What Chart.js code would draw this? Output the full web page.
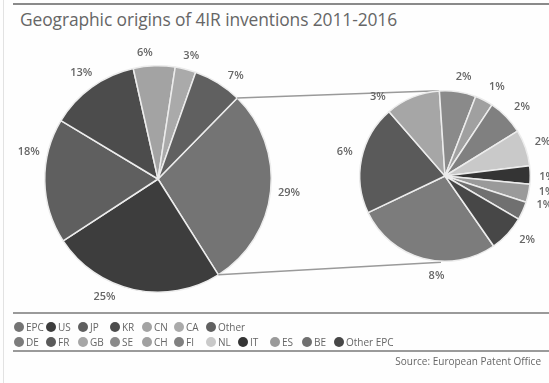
<!DOCTYPE html>
<html>
<head>
<meta charset="utf-8">
<script src="https://cdn.jsdelivr.net/npm/chart.js@4.4.1/dist/chart.umd.min.js"></script>
<style>
  html, body { margin: 0; padding: 0; background: #ffffff; }
  #wrap { position: relative; width: 549px; height: 383px; overflow: hidden; background: #fefefe; font-family: "Open Sans", sans-serif; }
  canvas { position: absolute; left: 0; top: 0; }
  .rule { position: absolute; left: 13px; right: 0; height: 2px; background: #8a8a8a; }
  #title { position: absolute; left: 20px; top: 7px; font-size: 17.4px; color: #666; white-space: nowrap; letter-spacing: -0.1px; }
  .lrow { position: absolute; left: 14px; height: 14px; font-size: 10px; color: #666; }
  .item { position: absolute; top: 0; white-space: nowrap; line-height: 14px; }
  .dot { display: inline-block; width: 10px; height: 10px; border-radius: 50%; vertical-align: -1px; margin-right: 2px; }
  #source { position: absolute; right: 8px; top: 354px; font-size: 10px; color: #666; }
  #edge { position: absolute; left: 3px; top: 0; bottom: 0; width: 1px; background: #e2e2e2; }
</style>
</head>
<body>
<div id="wrap">
  <div id="edge"></div>
  <div class="rule" style="top:3px"></div>
  <div id="title">Geographic origins of 4IR inventions 2011-2016</div>
  <canvas id="c1" width="549" height="383"></canvas>
  <canvas id="c2" width="549" height="383"></canvas>
  <div class="rule" style="top:312px; height:2px; background:#9a9a9a"></div>
  <div class="lrow" id="row1" style="top:320px"></div>
  <div class="lrow" id="row2" style="top:335px"></div>
  <div class="rule" style="top:350px; height:2px; background:#9a9a9a"></div>
  <div id="source">Source: European Patent Office</div>
</div>
<script>
const mainLabels = ['EPC', 'US', 'JP', 'KR', 'CN', 'CA', 'Other'];
const mainValues = [29, 25, 18, 13, 6, 3, 7];
const mainColors = ['#747474', '#3d3d3d', '#5f5f5f', '#4c4c4c', '#a3a3a3', '#aaaaaa', '#606060'];
// label placement nudges (degrees, clockwise) — styling only
const mainLabelShift = [0, 12, 13, 0, -4, 1, 5];

const epcLabels = ['DE', 'FR', 'GB', 'SE', 'CH', 'FI', 'NL', 'IT', 'ES', 'BE', 'Other EPC'];
const epcValues = [8, 6, 3, 2, 1, 2, 2, 1, 1, 1, 2];
const epcColors = ['#7c7c7c', '#5a5a5a', '#a6a6a6', '#8a8a8a', '#a0a0a0', '#808080', '#c9c9c9', '#343434', '#9a9a9a', '#707070', '#474747'];
const epcLabelShift = [-10, 2, -18, 2, 3, 2, 0, 1, -3, -8, -5];

const FONT = '"Open Sans", sans-serif';

function makeLabels(shifts, gap) {
  return {
    id: 'outsideLabels',
    afterDatasetsDraw(chart) {
      const ctx = chart.ctx;
      const meta = chart.getDatasetMeta(0);
      const vals = chart.data.datasets[0].data;
      ctx.save();
      ctx.font = '600 11px ' + FONT;
      ctx.fillStyle = '#666666';
      ctx.textAlign = 'center';
      ctx.textBaseline = 'middle';
      meta.data.forEach((arc, i) => {
        const p = arc.getProps(['x', 'y', 'startAngle', 'endAngle', 'outerRadius'], true);
        const mid = (p.startAngle + p.endAngle) / 2 + (shifts[i] || 0) * Math.PI / 180;
        const txt = vals[i] + '%';
        const w = ctx.measureText(txt).width;
        const h = 11;
        const d = p.outerRadius + gap + (w / 2) * Math.abs(Math.cos(mid)) + (h / 2) * Math.abs(Math.sin(mid));
        ctx.fillText(txt, p.x + Math.cos(mid) * d, p.y + Math.sin(mid) * d);
      });
      ctx.restore();
    }
  };
}

const chart1 = new Chart(document.getElementById('c1'), {
  type: 'pie',
  data: {
    labels: mainLabels,
    datasets: [{ data: mainValues, backgroundColor: mainColors, borderColor: '#ececec', borderWidth: 1.5 }]
  },
  options: {
    responsive: false,
    animation: false,
    rotation: 44.4,
    layout: { padding: { left: 44, right: 277, top: 65, bottom: 90 } },
    plugins: { legend: { display: false }, tooltip: { enabled: false } }
  },
  plugins: [makeLabels(mainLabelShift, 7)]
});

const connectors = {
  id: 'connectors',
  beforeDatasetsDraw(chart) {
    const a = chart1.getDatasetMeta(0).data[0].getProps(['x', 'y', 'startAngle', 'endAngle', 'outerRadius'], true);
    const b = chart.getDatasetMeta(0).data[0].getProps(['x', 'y', 'outerRadius'], true);
    const ctx = chart.ctx;
    ctx.save();
    ctx.strokeStyle = '#9a9a9a';
    ctx.lineWidth = 1.5;
    ctx.beginPath();
    ctx.moveTo(a.x + Math.cos(a.startAngle) * a.outerRadius, a.y + Math.sin(a.startAngle) * a.outerRadius);
    ctx.lineTo(b.x - 6, b.y - b.outerRadius);
    ctx.moveTo(a.x + Math.cos(a.endAngle) * a.outerRadius, a.y + Math.sin(a.endAngle) * a.outerRadius);
    ctx.lineTo(b.x - 4, b.y + b.outerRadius + 1);
    ctx.stroke();
    ctx.restore();
  }
};

new Chart(document.getElementById('c2'), {
  type: 'pie',
  data: {
    labels: epcLabels,
    datasets: [{ data: epcValues, backgroundColor: epcColors, borderColor: '#ececec', borderWidth: 1.5 }]
  },
  options: {
    responsive: false,
    animation: false,
    rotation: 145.2,
    layout: { padding: { left: 359, right: 18, top: 90, bottom: 121 } },
    plugins: { legend: { display: false }, tooltip: { enabled: false } }
  },
  plugins: [connectors, makeLabels(epcLabelShift, 9)]
});

function buildLegend(rowId, labels, colors) {
  const row = document.getElementById(rowId);
  labels.forEach((l, i) => {
    const it = document.createElement('span');
    it.className = 'item';
    it.style.left = (i * 32) + 'px';
    const d = document.createElement('span');
    d.className = 'dot';
    d.style.background = colors[i];
    it.appendChild(d);
    it.appendChild(document.createTextNode(l));
    row.appendChild(it);
  });
}
buildLegend('row1', mainLabels, mainColors);
buildLegend('row2', epcLabels, epcColors);
</script>
</body>
</html>
